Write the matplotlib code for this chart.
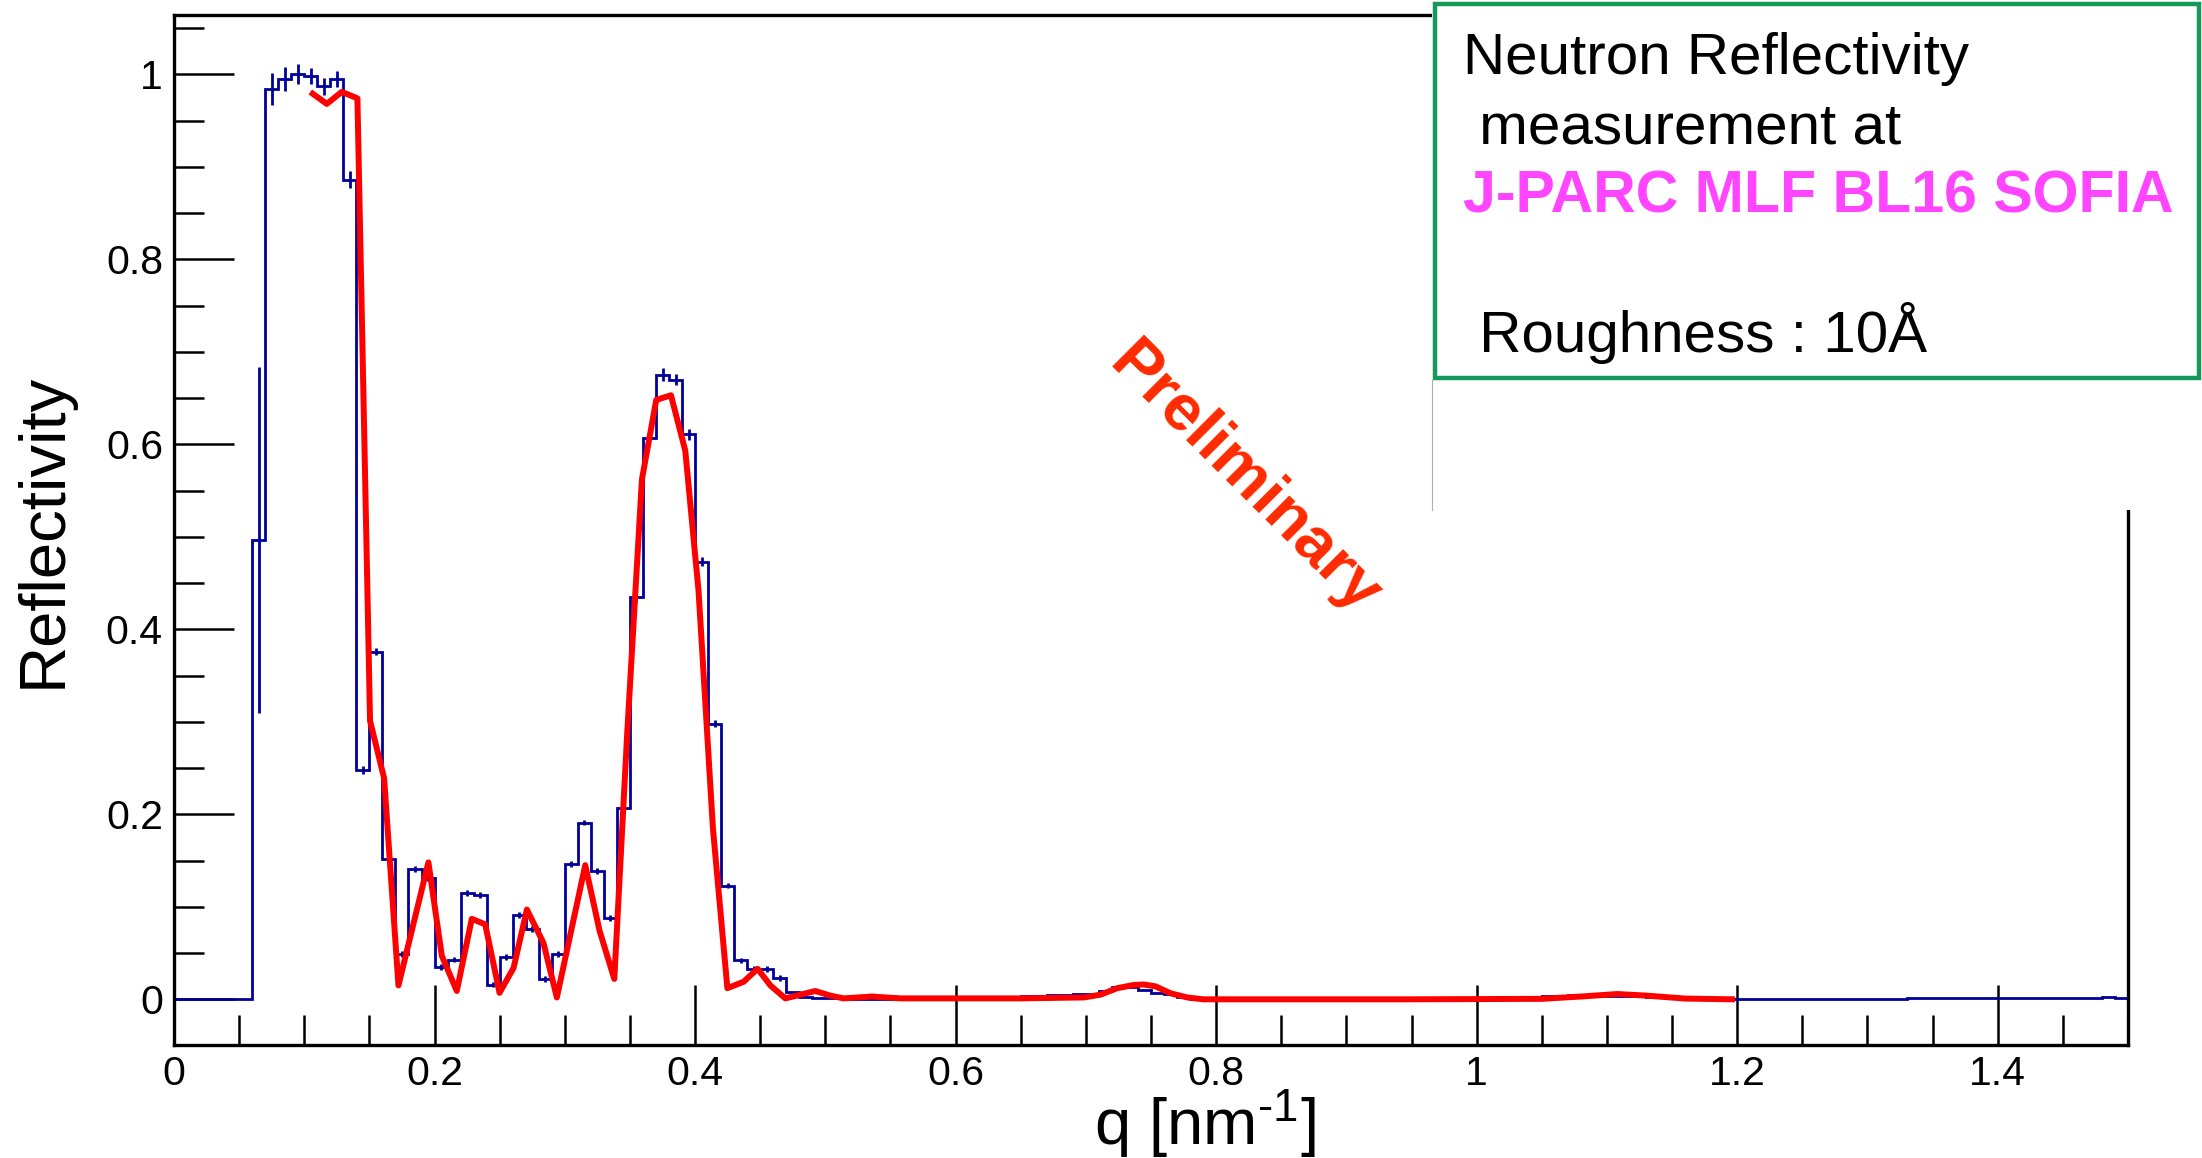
import matplotlib
matplotlib.use("Agg")
import matplotlib.pyplot as plt
import numpy as np
from matplotlib.patches import Rectangle
from matplotlib.lines import Line2D
from matplotlib.ticker import MultipleLocator, FuncFormatter

plt.rcParams["font.family"] = ["Liberation Sans", "DejaVu Sans"]
plt.rcParams["mathtext.fontset"] = "custom"
plt.rcParams["mathtext.rm"] = "Liberation Sans"
plt.rcParams["mathtext.default"] = "regular"

# measured reflectivity, 150 bins of 0.01 nm^-1 from 0 to 1.5
q_min = 0.0
q_max = 1.5
refl_meas = [
    0, 0, 0, 0, 0, 0, 0.497, 0.984, 0.995, 1.000,                          # 0.0
    0.998, 0.987, 0.995, 0.886, 0.248, 0.376, 0.152, 0.049, 0.141, 0.131,  # 0.1
    0.035, 0.043, 0.115, 0.113, 0.016, 0.046, 0.091, 0.076, 0.022, 0.049,  # 0.2
    0.146, 0.191, 0.139, 0.088, 0.207, 0.435, 0.607, 0.675, 0.670, 0.611,  # 0.3
    0.473, 0.298, 0.123, 0.042, 0.033, 0.033, 0.023, 0.008, 0.003, 0.0015, # 0.4
    0.001, 0.001, 0.0008, 0.0008, 0.0006, 0.0006, 0.0005, 0.0005, 0.0005, 0.0006,
    0.0008, 0.001, 0.0012, 0.0015, 0.002, 0.0036, 0.0038, 0.0046, 0.0048, 0.0057,
    0.006, 0.0093, 0.013, 0.013, 0.010, 0.0068, 0.0057, 0.002, 0.0008, 0.0005,
    0.0003, 0.0003, 0.0002, 0.0002, 0.0002, 0.0002, 0.0002, 0.0002, 0.0002, 0.0002,
    0.0002, 0.0002, 0.0002, 0.0002, 0.0002, 0.0002, 0.0002, 0.0002, 0.0002, 0.0003,
    0.0003, 0.0005, 0.001, 0.002, 0.003, 0.004, 0.004, 0.0045, 0.004, 0.004,  # 1.0
    0.004, 0.004, 0.0035, 0.003, 0.002, 0.0012, 0.0008, 0.0005, 0.0004, 0.0003,
    0.0003, 0.0004, 0.0003, 0.0008, 0.0004, 0.0003, 0.0003, 0.0004, 0.0005, 0.0005,
    0.0006, 0.0008, 0.0008, 0.001, 0.0016, 0.0012, 0.0018, 0.0014, 0.0017, 0.0015,
    0.0018, 0.0013, 0.0016, 0.0012, 0.0017, 0.0014, 0.0016, 0.0015, 0.0028, 0.0010,
]
refl_err = (
    [0, 0, 0, 0, 0, 0, 0.187, 0.017, 0.013, 0.011,
     0.009, 0.009, 0.009, 0.009, 0.004, 0.004, 0.004, 0.003, 0.003, 0.003,
     0.003, 0.003, 0.003, 0.003, 0.003, 0.003, 0.003, 0.003, 0.003, 0.003,
     0.003, 0.003, 0.003, 0.003, 0.004, 0.006, 0.006, 0.007, 0.006, 0.006,
     0.005, 0.004, 0.003, 0.003, 0.003, 0.003, 0.003, 0, 0, 0]
    + [0] * 100
)

# simulated curve (roughness 10 A)
q_sim = [0.1065, 0.1173, 0.1288, 0.1408, 0.1505, 0.1613, 0.1723, 0.1953,
         0.2056, 0.2171, 0.2286, 0.2389, 0.2499, 0.2607, 0.2709, 0.2836,
         0.2939, 0.3157, 0.3267, 0.3380, 0.3480, 0.3592, 0.3702, 0.3815,
         0.3925, 0.4027, 0.4137, 0.4248, 0.4373, 0.4480, 0.4578, 0.4693,
         0.4808, 0.4923, 0.5038, 0.5140, 0.5358, 0.5576, 0.60, 0.65,
         0.6984, 0.7112, 0.7240, 0.7368, 0.7445, 0.7535, 0.7650, 0.7778,
         0.79, 0.95, 1.05, 1.08, 1.108, 1.13, 1.16, 1.196]
refl_sim = [0.979, 0.968, 0.981, 0.974, 0.301, 0.239, 0.015, 0.148,
            0.047, 0.009, 0.087, 0.081, 0.007, 0.034, 0.097, 0.061,
            0.002, 0.145, 0.074, 0.022, 0.290, 0.562, 0.648, 0.653,
            0.593, 0.441, 0.185, 0.012, 0.019, 0.033, 0.015, 0.001,
            0.005, 0.009, 0.004, 0.001, 0.003, 0.001, 0.001, 0.001,
            0.002, 0.005, 0.012, 0.0155, 0.016, 0.014, 0.0065, 0.002,
            0.0, 0.0, 0.0005, 0.003, 0.0057, 0.004, 0.0008, 0.0]

box_lines = ["Neutron Reflectivity", " measurement at", "J-PARC MLF BL16 SOFIA",
             " Roughness : 10Å"]

W, H = 2202, 1158
fig = plt.figure(figsize=(W / 100, H / 100), dpi=100)
ax = fig.add_axes([174 / W, 1 - 1045 / H, (2128 - 174) / W, (1045 - 15) / H])

edges = np.linspace(q_min, q_max, len(refl_meas) + 1)
centers = 0.5 * (edges[:-1] + edges[1:])
blue = "#000099"
ax.stairs(refl_meas, edges, color=blue, lw=2.0, zorder=2)
ax.errorbar(centers, refl_meas, yerr=refl_err, fmt="none", ecolor=blue,
            elinewidth=2.0, zorder=2)
ax.plot(q_sim, refl_sim, color="#ff0000", lw=4.3, zorder=3)

ax.set_xlim(q_min, q_max)
ax.set_ylim(-0.0494, 1.0641)

for axis in (ax.xaxis, ax.yaxis):
    axis.set_major_locator(MultipleLocator(0.2))
    axis.set_minor_locator(MultipleLocator(0.05))
    axis.set_major_formatter(FuncFormatter(lambda v, p: f"{v:g}"))
ax.tick_params(which="both", direction="in", top=False, right=False, width=1.8)
ax.tick_params(which="major", length=43, labelsize=29.5)
ax.tick_params(which="minor", length=21.5)
ax.tick_params(axis="y", pad=8)
ax.tick_params(axis="x", pad=7)
for sp in ax.spines.values():
    sp.set_linewidth(2.4)

ax.set_xlabel(r"q [nm$^{\text{-}1}$]", fontsize=47)
ax.xaxis.set_label_coords(0.5276, -0.0418)
ax.set_ylabel("Reflectivity", fontsize=47)
ax.yaxis.set_label_coords(-0.0512, 0.5)

fig.text(1244 / W, 1 - 479 / H, "Preliminary", color="#ff2a00", fontsize=47,
         fontweight="bold", rotation=-45, rotation_mode="anchor",
         ha="center", va="center")

# info box pasted over the upper right corner
fig.add_artist(Rectangle((1432 / W, 1 - 510 / H), (W - 1432) / W, 510 / H,
                         transform=fig.transFigure, facecolor="white",
                         edgecolor="none", zorder=5))
fig.add_artist(Line2D([1432 / W, 1432 / W], [1 - 380 / H, 1 - 510 / H],
                      transform=fig.transFigure, color="#b0b0b0", lw=0.8,
                      zorder=6))
fig.add_artist(Rectangle((1435 / W, 1 - 378 / H), (2199 - 1435) / W, 374 / H,
                         transform=fig.transFigure, fill=False,
                         edgecolor="#15995a", lw=3.2, zorder=7))

x0 = 1463 / W
fig.text(x0, 1 - 74 / H, box_lines[0], fontsize=42, va="baseline", zorder=8)
fig.text(x0, 1 - 143 / H, box_lines[1], fontsize=42, va="baseline", zorder=8)
fig.text(x0, 1 - 212 / H, box_lines[2], fontsize=42.5, va="baseline",
         color="#ff45ff", fontweight="bold", zorder=8)
fig.text(x0, 1 - 352 / H, box_lines[3], fontsize=42, va="baseline", zorder=8)

fig.savefig("out.png", dpi=100)
